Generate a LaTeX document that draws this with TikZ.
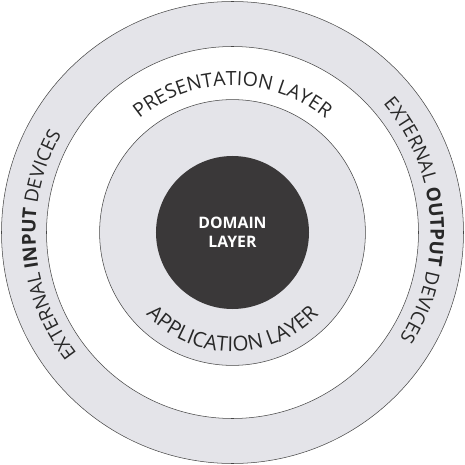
\documentclass[tikz,border=0pt]{standalone}
\usepackage{fontspec}
\setmainfont{Open Sans}
\usetikzlibrary{decorations.text}

\definecolor{ringgray}{RGB}{228,228,233}
\definecolor{coregray}{RGB}{58,56,57}
\definecolor{linegray}{RGB}{70,70,70}
\definecolor{labelgray}{RGB}{40,40,40}

\newcommand\ringfont{\fontsize{18}{20}\selectfont}

\tikzset{
  ring/.style={fill=ringgray, draw=linegray, line width=0.5pt},
  ringlabel/.style={decorate, decoration={text along path, text align=center,
      text color=labelgray, text={#1}}}
}

\begin{document}
\begin{tikzpicture}
\useasboundingbox (-7.75,-7.75) rectangle (7.75,7.75);

% rings
\draw[ring] (0,0) circle (7.7);
\draw[fill=white, draw=linegray, line width=0.5pt] (0,0) circle (6.2);
\draw[ring] (0,0) circle (4.43);
\fill[coregray] (0,0) circle (2.55);

% core
\node[text=white, font=\bfseries\fontsize{15}{18}\selectfont, align=center] (domain) at (0,0) {DOMAIN\\LAYER};

% layer labels
\path[ringlabel={|\fontsize{18.5}{20}\selectfont|PRESENTATION LAYER}]
  (180:4.9) arc[start angle=180, end angle=0, radius=4.9];
\path[ringlabel={|\fontsize{19.5}{20}\selectfont|APPLICATION LAYER}]
  (180:3.97) arc[start angle=180, end angle=360, radius=3.97];

% devices
\path[ringlabel={|\ringfont|EXTERNAL |\ringfont\bfseries|INPUT|\ringfont| DEVICES}]
  (274:6.57) arc[start angle=274, end angle=94, radius=6.57];
\path[ringlabel={|\ringfont|EXTERNAL |\ringfont\bfseries|OUTPUT|\ringfont| DEVICES}]
  (94:6.6) arc[start angle=94, end angle=-86, radius=6.6];
\end{tikzpicture}
\end{document}
